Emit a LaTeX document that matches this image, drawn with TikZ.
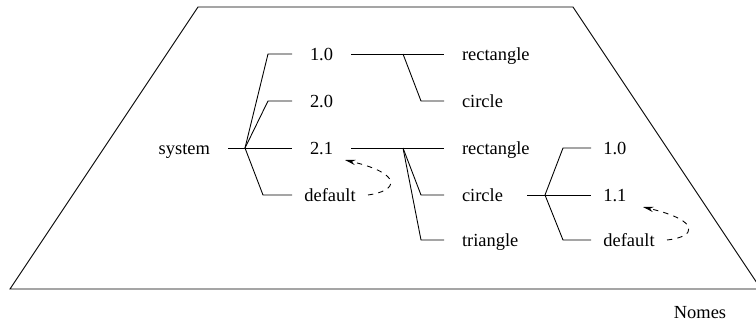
\documentclass[tikz,border=0pt]{standalone}
\usepackage{fontspec}
\setmainfont{Liberation Serif}
\usetikzlibrary{arrows.meta}
\tikzset{lbl/.style={inner xsep=10pt,inner ysep=0pt,text height=7pt,text depth=0pt,font=\fontsize{10.5}{12}\selectfont}}
\begin{document}
\begin{tikzpicture}[x=0.2mm,y=-0.2mm,line width=0.5pt]
\useasboundingbox (0,0) rectangle (756,322);

% The frame
\draw[color=black] (10,289) -- (198,7) -- (573,7) -- (761,289) -- cycle;
\node[lbl] (nomes) at (700,312) {Nomes};

% The root and the versions
\node[lbl,anchor=east] (sys) at (228,148) {system};
\node[lbl,anchor=west] (v10) at (292,54) {1.0};
\node[lbl,anchor=west] (v20) at (292,101) {2.0};
\node[lbl,anchor=west] (v21) at (292,148) {2.1};
\node[lbl,anchor=west,inner xsep=6.8pt] (def1) at (292,195) {default};

% The shapes
\node[lbl,anchor=west] (rect1) at (444,54) {rectangle};
\node[lbl,anchor=west] (circ1) at (444,101) {circle};
\node[lbl,anchor=west] (rect2) at (444,148) {rectangle};
\node[lbl,anchor=west] (circ2) at (444,195) {circle};
\node[lbl,anchor=west] (tri2) at (444,240) {triangle};

% The circle versions
\node[lbl,anchor=west,inner xsep=6.8pt] (c10) at (591,148) {1.0};
\node[lbl,anchor=west,inner xsep=6.8pt] (c11) at (591,195) {1.1};
\node[lbl,anchor=west,inner xsep=6.8pt] (def3) at (591,240) {default};

% The branch points
\coordinate (b0) at (245,148);
\coordinate (b1) at (403,54);
\coordinate (b2) at (403,148);
\coordinate (b3) at (545,195);

% The tree lines
\draw[color=black] (sys.east) -- (v21.west);
\draw[color=black] (b0) -- ([xshift=-4.8mm]v10.west) -- (v10.west);
\draw[color=black] (b0) -- ([xshift=-4.8mm]v20.west) -- (v20.west);
\draw[color=black] (b0) -- ([xshift=-5.8mm]def1.west) -- (def1.west);

\draw[color=black] (v10.east) -- (rect1.west);
\draw[color=black] (b1) -- ([xshift=-4.6mm]circ1.west) -- (circ1.west);
\draw[color=black] (v21.east) -- (rect2.west);
\draw[color=black] (b2) -- ([xshift=-4.6mm]circ2.west) -- (circ2.west);
\draw[color=black] (b2) -- ([xshift=-4.6mm]tri2.west) -- (tri2.west);

\draw[color=black] ([xshift=1.2mm]circ2.east) -- (c11.west);
\draw[color=black] (b3) -- ([xshift=-5.6mm]c10.west) -- (c10.west);
\draw[color=black] (b3) -- ([xshift=-5.6mm]def3.west) -- (def3.west);

% The default arrows
\coordinate (t1) at (345,160);
\coordinate (t2) at (643,207);
\draw[color=black,dashed,-{Stealth[length=6pt,width=3pt]}] (def1.east) .. controls (398,191) and (404,174) .. (t1);
\draw[color=black,dashed,-{Stealth[length=6pt,width=3pt]}] (def3.east) .. controls (696,237) and (702,221) .. (t2);

\end{tikzpicture}
\end{document}
